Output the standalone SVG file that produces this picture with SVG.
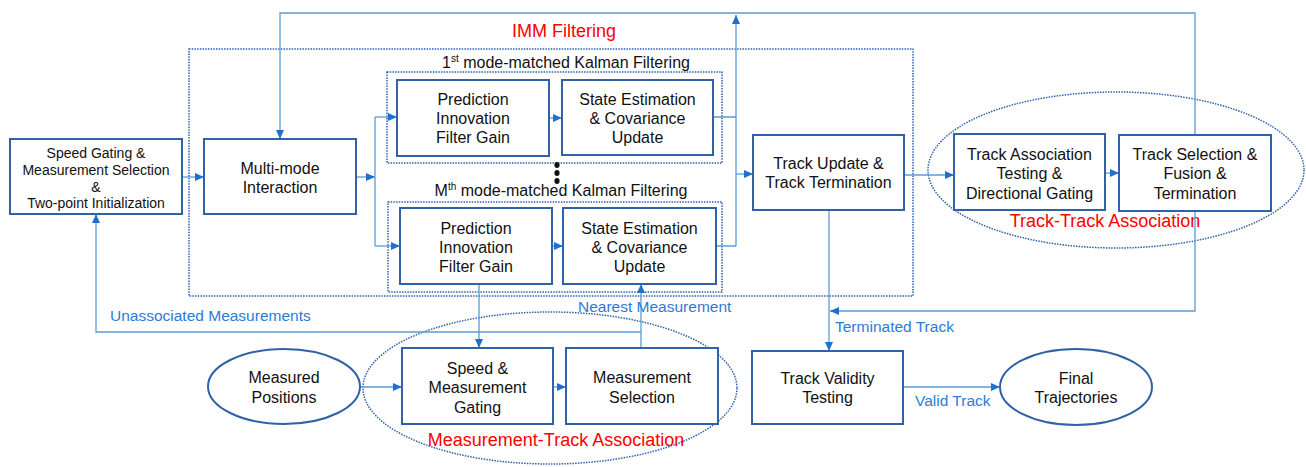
<svg xmlns="http://www.w3.org/2000/svg" width="1306" height="467" viewBox="0 0 1306 467">
<defs>
<marker id="arr" markerUnits="userSpaceOnUse" markerWidth="10" markerHeight="10" viewBox="0 0 10 10" refX="9" refY="5" orient="auto">
<path d="M0,1 L9,5 L0,9 Z" fill="#1F6FCF"/>
</marker>
<style>
.box{fill:#fff;stroke:#2F62A6;stroke-width:2}
.dot{fill:none;stroke:#2E62B0;stroke-width:1.5;stroke-dasharray:1.5 1.2}
.ln{fill:none;stroke:#5B9BD5;stroke-width:1.3}
.ar{marker-end:url(#arr)}
.t{font-family:"Liberation Sans",Arial,sans-serif;font-size:16px;fill:#111;text-anchor:middle}
.s{font-size:14px}
.lb{font-family:"Liberation Sans",Arial,sans-serif;font-size:15.5px;fill:#2E7BD6}
.red{font-family:"Liberation Sans",Arial,sans-serif;font-size:18px;fill:#FF0000;text-anchor:middle}
</style>
</defs>
<rect width="1306" height="467" fill="#fff"/>

<g id="containers">
<rect class="dot" x="189" y="49" width="724" height="247"/>
<rect class="dot" x="387" y="72" width="335" height="91"/>
<rect class="dot" x="388" y="202" width="334" height="90"/>
<ellipse class="dot" cx="550" cy="388" rx="187" ry="76"/>
<ellipse class="dot" cx="1116" cy="170" rx="188" ry="78"/>
<text class="red" x="564" y="37">IMM Filtering</text>
<text class="t" x="566" y="68">1<tspan font-size="10" dy="-6">st</tspan><tspan dy="6"> mode-matched  Kalman Filtering</tspan></text>
<text class="t" x="561" y="196">M<tspan font-size="10" dy="-6">th</tspan><tspan dy="6"> mode-matched Kalman Filtering</tspan></text>
<ellipse cx="557" cy="165" rx="2.6" ry="3" fill="#111"/>
<ellipse cx="557" cy="173" rx="2.6" ry="3" fill="#111"/>
<ellipse cx="557" cy="181" rx="2.6" ry="3" fill="#111"/>
<text class="red" x="556" y="446">Measurement-Track Association</text>
<text class="red" x="1105" y="227">Track-Track Association</text>
</g>

<g id="connectors">
<path class="ln ar" d="M1195,135 V13 H280 V139"/>
<path class="ln" d="M713,117 H736 M716,246 H736"/>
<path class="ln ar" d="M736,246 V15"/>
<path class="ln ar" d="M736,174 H753"/>
<path class="ln ar" d="M182,177 H204"/>
<path class="ln ar" d="M356,177 H375"/>
<path class="ln" d="M375,117 V246"/>
<path class="ln ar" d="M375,117 H397"/>
<path class="ln ar" d="M375,246 H400"/>
<path class="ln ar" d="M549,118 H562"/>
<path class="ln ar" d="M552,246 H563"/>
<path class="ln ar" d="M479,284 V348"/>
<path class="ln ar" d="M360,387 H402"/>
<path class="ln ar" d="M553,387 H566"/>
<path class="ln ar" d="M641,348 V284"/>
<path class="ln ar" d="M641,332 H96 V214"/>
<path class="ln ar" d="M904,175 H954"/>
<path class="ln ar" d="M1105,173 H1119"/>
<path class="ln ar" d="M829,210 V351"/>
<path class="ln ar" d="M1195,211 V311 H830"/>
<path class="ln ar" d="M903,387 H1000"/>
<text class="lb" x="110" y="321">Unassociated Measurements</text>
<text class="lb" x="578" y="312">Nearest Measurement</text>
<text class="lb" x="835" y="332">Terminated Track</text>
<text class="lb" x="915" y="406">Valid Track</text>
</g>

<g id="speed-gating">
<rect class="box" x="10" y="139" width="172" height="75"/>
<text class="t s" x="96"><tspan x="96" y="158">Speed Gating &amp;</tspan><tspan x="96" y="175">Measurement  Selection</tspan><tspan x="96" y="192">&amp;</tspan><tspan x="96" y="208">Two-point Initialization</tspan></text>
</g>
<g id="multi-mode">
<rect class="box" x="204" y="139" width="152" height="75"/>
<text class="t"><tspan x="280" y="173.5">Multi-mode</tspan><tspan x="280" y="192.5">Interaction</tspan></text>
</g>
<g id="prediction-1">
<rect class="box" x="397" y="80" width="152" height="76"/>
<text class="t"><tspan x="473" y="104.5">Prediction</tspan><tspan x="473" y="123.5">Innovation</tspan><tspan x="473" y="142.5">Filter Gain</tspan></text>
</g>
<g id="state-1">
<rect class="box" x="562" y="80" width="151" height="75"/>
<text class="t"><tspan x="637.5" y="104.5">State Estimation</tspan><tspan x="637.5" y="123.5">&amp; Covariance</tspan><tspan x="637.5" y="142.5">Update</tspan></text>
</g>
<g id="prediction-m">
<rect class="box" x="400" y="208" width="152" height="76"/>
<text class="t"><tspan x="476" y="233.5">Prediction</tspan><tspan x="476" y="252.5">Innovation</tspan><tspan x="476" y="271.5">Filter Gain</tspan></text>
</g>
<g id="state-m">
<rect class="box" x="563" y="208" width="153" height="76"/>
<text class="t"><tspan x="639.5" y="233.5">State Estimation</tspan><tspan x="639.5" y="252.5">&amp; Covariance</tspan><tspan x="639.5" y="271.5">Update</tspan></text>
</g>
<g id="track-update">
<rect class="box" x="753" y="135" width="151" height="75"/>
<text class="t"><tspan x="828.5" y="168.5">Track Update &amp;</tspan><tspan x="828.5" y="187.5">Track Termination</tspan></text>
</g>
<g id="track-association">
<rect class="box" x="954" y="134" width="151" height="76"/>
<text class="t"><tspan x="1029.5" y="159.5">Track Association</tspan><tspan x="1029.5" y="178.5">Testing &amp;</tspan><tspan x="1029.5" y="198.5">Directional Gating</tspan></text>
</g>
<g id="track-selection">
<rect class="box" x="1119" y="135" width="152" height="76"/>
<text class="t"><tspan x="1195" y="159.5">Track Selection &amp;</tspan><tspan x="1195" y="178.5">Fusion &amp;</tspan><tspan x="1195" y="198.5">Termination</tspan></text>
</g>
<g id="measured-positions">
<ellipse class="box" cx="284" cy="386.5" rx="76" ry="37.5"/>
<text class="t"><tspan x="284" y="382.5">Measured</tspan><tspan x="284" y="402.5">Positions</tspan></text>
</g>
<g id="speed-measurement-gating">
<rect class="box" x="402" y="348" width="151" height="76"/>
<text class="t"><tspan x="477.5" y="373.5">Speed &amp;</tspan><tspan x="477.5" y="392.5">Measurement</tspan><tspan x="477.5" y="412.5">Gating</tspan></text>
</g>
<g id="measurement-selection">
<rect class="box" x="566" y="348" width="152" height="76"/>
<text class="t"><tspan x="642" y="382.5">Measurement</tspan><tspan x="642" y="402.5">Selection</tspan></text>
</g>
<g id="track-validity">
<rect class="box" x="752" y="351" width="151" height="73"/>
<text class="t"><tspan x="827.5" y="383.5">Track Validity</tspan><tspan x="827.5" y="402.5">Testing</tspan></text>
</g>
<g id="final-trajectories">
<ellipse class="box" cx="1076" cy="387" rx="76" ry="38"/>
<text class="t"><tspan x="1076" y="383.5">Final</tspan><tspan x="1076" y="402.5">Trajectories</tspan></text>
</g>
</svg>
